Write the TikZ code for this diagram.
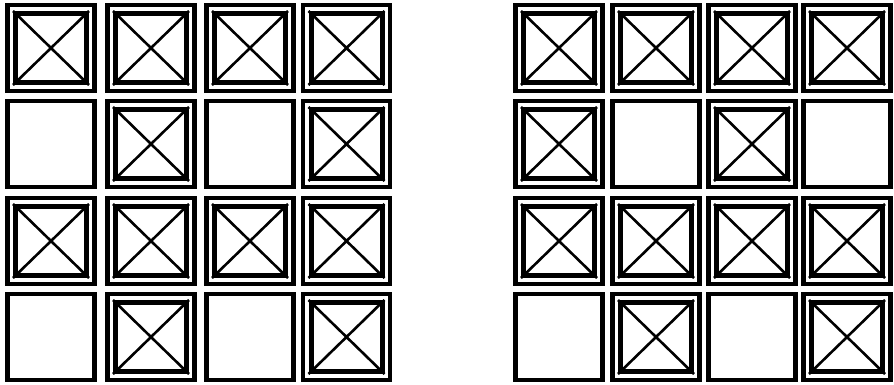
\documentclass[tikz,border=0pt]{standalone}

\begin{document}
\begin{tikzpicture}[x=1pt, y=-1pt,
	frame/.style={draw, line width=4.2pt, minimum width=87pt, minimum height=86pt, inner sep=0pt},
	inbox/.style={draw, line width=5pt, minimum width=71pt, minimum height=69pt, inner sep=0pt},
	cross/.style={line width=2.6pt}]
	\useasboundingbox (0,0) rectangle (894,384);
	% left grid
	\foreach \y [count=\r] in {48,144,241,337} {
		\foreach \x [count=\c] in {51,151,250,346.5} {
			\pgfmathtruncatemacro\k{{1,1,1,1,0,1,0,1,1,1,1,1,0,1,0,1}[4*\r+\c-5]}
			\node[frame] (l\r\c) at (\x,\y) {};
			\ifnum\k=1
				\node[inbox] (li\r\c) at (l\r\c) {};
				\draw[cross] (li\r\c.north west) -- (li\r\c.south east)
					(li\r\c.north east) -- (li\r\c.south west);
			\fi
		}
	}
	% right grid
	\foreach \y [count=\r] in {48,144,241,337} {
		\foreach \x [count=\c] in {559,656,752,847} {
			\pgfmathtruncatemacro\k{{1,1,1,1,1,0,1,0,1,1,1,1,0,1,0,1}[4*\r+\c-5]}
			\node[frame] (r\r\c) at (\x,\y) {};
			\ifnum\k=1
				\node[inbox] (ri\r\c) at (r\r\c) {};
				\draw[cross] (ri\r\c.north west) -- (ri\r\c.south east)
					(ri\r\c.north east) -- (ri\r\c.south west);
			\fi
		}
	}
\end{tikzpicture}
\end{document}
